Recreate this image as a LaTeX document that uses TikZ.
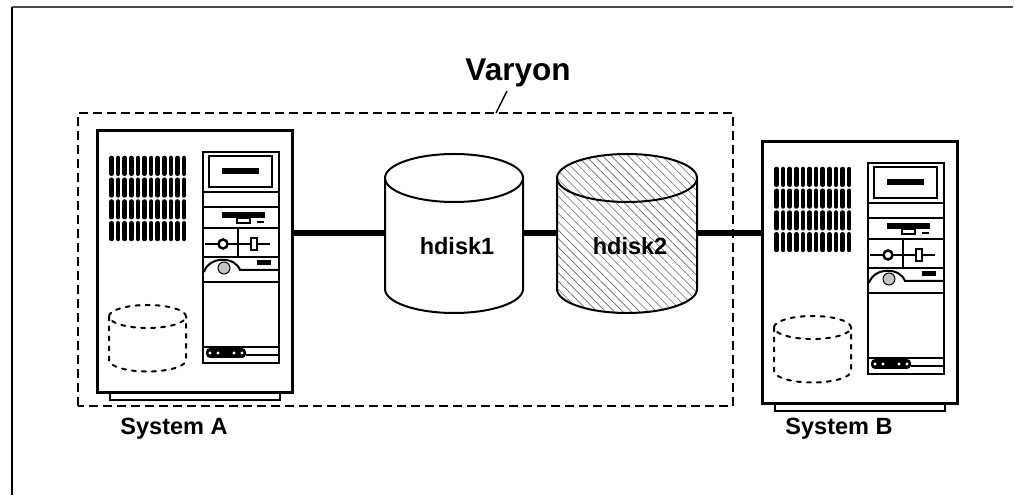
\documentclass[tikz,border=0pt]{standalone}
\usepackage{fontspec}
\setmainfont{Liberation Sans}
\usetikzlibrary{patterns.meta}

\tikzset{
  casebox/.style={draw, line width=3, minimum width=195, minimum height=262, inner sep=0},
  ventbar/.style={line width=4.5, line cap=round},
  sparedisk/.style={line width=2, dash pattern=on 4pt off 6pt, line cap=round},
  diskbody/.style={inner sep=0, outer sep=0, minimum width=138, minimum height=111},
  diskline/.style={line width=2},
  hatch/.style={pattern={Lines[angle=-45,distance=6pt,line width=0.6pt]}, pattern color=black!60},
  cable/.style={line width=6},
  boldlabel/.style={font=\bfseries\fontsize{23.5}{28}\selectfont, inner sep=2},
  % one workstation, origin at the bottom left corner of the case
  pics/computer/.style={code={
    \node[casebox] (-box) at (97.5,131) {};
    \draw[line width=2] (13,-1.5) -- (13,-7) -- (183,-7) -- (183,-1.5);
    % vent grille
    \foreach \i in {0,...,11}
      \foreach \r in {0,...,3}
        \draw[ventbar] ({14.5+6.6*\i},{151+21.75*\r+3}) -- ++(0,15.75);
    % front panel
    \draw[line width=2.5] (106,30) rectangle (182,241);
    \draw[line width=2.5] (112,206) rectangle (175,237);
    \fill (125,219) rectangle (162,225);
    \foreach \v in {201,186,165,136,111,46}
      \draw[line width=1.5] (106,\v) -- (182,\v);
    % floppy slot
    \fill (125,175) rectangle (168,181);
    \draw[line width=1.2] (140,175) rectangle (153,170);
    \draw[line width=2] (160,171) -- (167,171);
    % key lock and switch
    \draw[line width=1.5] (141,165) -- (141,136);
    \draw[line width=2] (108,149) -- (173,149);
    \draw[line width=2.5, fill=white] (126,149) circle (4.5);
    \draw[line width=2, fill=white] (154,143) rectangle (160,155);
    % speaker
    \draw[line width=2] (107,121) .. controls (112,137) and (138,137) .. (143,123) -- (182,123);
    \draw[line width=1, pattern={Dots[distance=2pt,radius=0.6pt]}] (127,125) circle (6);
    \fill (160,128) rectangle (174,133);
    % buttons
    \fill[rounded corners=4] (109,35) rectangle (149,45);
    \foreach \u in {113,121,137,145}
      \fill[white] (\u,40) circle (1.6);
    \draw[line width=1.5] (149,38) -- (182,38);
    % spare disk bay
    \draw[sparedisk] (50.5,76.5) ellipse (38.5 and 11.5);
    \draw[sparedisk] (12,76.5) -- (12,33) arc[start angle=180, end angle=360, x radius=38.5, y radius=11.5] -- (89,76.5);
  }}
}

\begin{document}
\begin{tikzpicture}[x=1pt, y=1pt]
  \useasboundingbox (0,0) rectangle (1014,495);
  % page frame
  \draw[line width=1.5, black!70] (12,488) -- (1013,488);
  \draw[line width=1.5] (12,488) -- (12,0);

  % volume group
  \draw[line width=1.5, dash pattern=on 9pt off 5pt] (78,89) rectangle (733,382);
  \node[font=\bfseries\fontsize{31.5}{36}\selectfont, anchor=base] (varyon) at (518,414) {Varyon};
  \coordinate (tick) at (496,382);
  \draw[line width=1.5] ([xshift=-11pt]varyon.south) -- (tick);

  % the two machines
  \pic (sysA) at (97,102) {computer};
  \pic (sysB) at (762,91) {computer};
  \node[boldlabel, anchor=base] (labA) at (174,60) {System A};
  \node[boldlabel, anchor=base] (labB) at (839,60) {System B};

  % shared disks
  \node[diskbody] (hdisk1) at (454,261.5) {};
  \node[diskbody, minimum width=140] (hdisk2) at (627,261.5) {};
  \draw[diskline, fill=white] (hdisk1.north west) -- (hdisk1.south west)
    arc[start angle=180, end angle=360, x radius=69, y radius=24] -- (hdisk1.north east)
    arc[start angle=0, end angle=180, x radius=69, y radius=24] -- cycle;
  \draw[diskline] (hdisk1.north west) arc[start angle=180, end angle=360, x radius=69, y radius=24];
  \draw[diskline, hatch] (hdisk2.north west) -- (hdisk2.south west)
    arc[start angle=180, end angle=360, x radius=70, y radius=24] -- (hdisk2.north east)
    arc[start angle=0, end angle=180, x radius=70, y radius=24] -- cycle;
  \draw[diskline] (hdisk2.north west) arc[start angle=180, end angle=360, x radius=70, y radius=24];
  \node[boldlabel, anchor=base] at ([yshift=-21.5pt,xshift=3pt]hdisk1.center) {hdisk1};
  \node[boldlabel, anchor=base] at ([yshift=-21.5pt,xshift=3pt]hdisk2.center) {hdisk2};

  % SCSI cabling
  \draw[cable] (sysA-box.east |- hdisk1.west) -- (hdisk1.west);
  \draw[cable] (hdisk1.east) -- (hdisk2.west);
  \draw[cable] (hdisk2.east) -- (sysB-box.west |- hdisk2.east);
\end{tikzpicture}
\end{document}
